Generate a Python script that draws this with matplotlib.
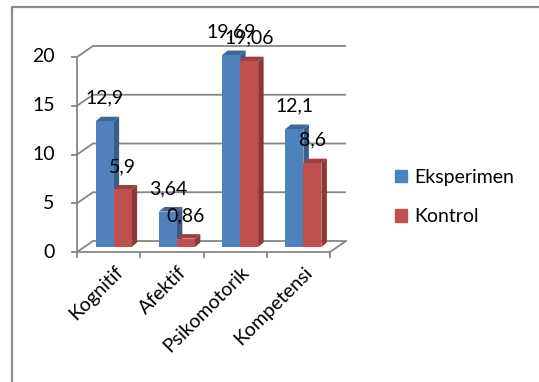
import matplotlib
matplotlib.use("Agg")
import matplotlib.pyplot as plt
from matplotlib.patches import Polygon, Patch
from matplotlib.lines import Line2D

categories = ["Kognitif", "Afektif", "Psikomotorik", "Kompetensi"]
eksperimen = [12.9, 3.64, 19.69, 12.1]
kontrol = [5.9, 0.86, 19.06, 8.6]
series_names = ["Eksperimen", "Kontrol"]
y_ticks = [0, 5, 10, 15, 20]

FONT = "Lato"
FS = 14
GRID = "#868686"
BLUE, BLUE_SIDE, BLUE_TOP = "#4F81BD", "#385D8A", "#3F6797"
RED, RED_SIDE, RED_TOP = "#C0504D", "#8C3836", "#9E3F3C"

W, H = 539, 382
fig = plt.figure(figsize=(W / 100, H / 100), dpi=100)

# front plane of the plot: x 77..330 px, y 252..57 px (from top)
ax = fig.add_axes([77 / W, (H - 252) / H, 253 / W, 195 / H])
ax.set_xlim(0, len(categories))
ax.set_ylim(0, 20)
ax.axis("off")

px_x = len(categories) / 253.0
px_y = 20 / 195.0

def fmt(v):
    return ("%g" % v).replace(".", ",")

# back wall / floor
wx, wy = 16 * px_x, 11 * px_y
n = len(categories)
for v in y_ticks:
    ax.plot([0, wx, n + wx], [v, v + wy, v + wy], color=GRID, lw=1.3,
            clip_on=False, zorder=1, solid_capstyle="butt")
    ax.plot([-5 * px_x, 0], [v, v], color=GRID, lw=1.3, clip_on=False, zorder=1)
    ax.annotate(str(v), (0, v), xytext=(-16, 0), textcoords="offset points",
                ha="right", va="center", fontsize=FS, family=FONT,
                annotation_clip=False)
ax.plot([0, n, n + wx], [0, 0, wy], color=GRID, lw=1.3, clip_on=False, zorder=1)
ax.plot([0, 0], [0, 20], color=GRID, lw=1.3, clip_on=False, zorder=1)
for i in range(n + 1):
    ax.plot([i, i], [0, -5 * px_y], color=GRID, lw=1.3, clip_on=False, zorder=1)

# bars (mid depth)
bw = 18 * px_x
bx, by = 5 * px_x, 5 * px_y
dx, dy = 5.5 * px_x, 4.5 * px_y
xs = [i + 0.5 + bx for i in range(n)]

def draw_series(vals, offset, front, side, top, z0):
    bars = ax.bar([x + offset for x in xs], vals, width=bw, bottom=by,
                  color=front, linewidth=0, clip_on=False)
    for k, (b, v) in enumerate(zip(bars, vals)):
        z = z0 + 4 * k
        x0, x1 = b.get_x(), b.get_x() + b.get_width()
        y0, y1 = b.get_y(), b.get_y() + b.get_height()
        ax.add_patch(Polygon([(x1, y0), (x1 + dx, y0 + dy), (x1 + dx, y1 + dy), (x1, y1)],
                             closed=True, color=side, lw=0, zorder=z, clip_on=False))
        ax.add_patch(Polygon([(x0, y1), (x0 + dx, y1 + dy), (x1 + dx, y1 + dy), (x1, y1)],
                             closed=True, color=top, lw=0, zorder=z, clip_on=False))
        b.set_zorder(z + 1)
        ax.annotate(fmt(v), ((x0 + x1) / 2, y1), xytext=(0, 16.5),
                    textcoords="offset points", ha="center", va="center",
                    fontsize=FS, family=FONT, zorder=50, annotation_clip=False)

draw_series(eksperimen, -bw / 2, BLUE, BLUE_SIDE, BLUE_TOP, 2)
draw_series(kontrol, bw / 2, RED, RED_SIDE, RED_TOP, 4)

# category labels
for i, c in enumerate(categories):
    ax.annotate(c, (i + 0.5, 0), xytext=(4, -8), textcoords="offset points",
                ha="right", va="top", rotation=45, rotation_mode="anchor",
                fontsize=FS, family=FONT, annotation_clip=False)

# legend
handles = [Patch(color=BLUE), Patch(color=RED)]
fig.legend(handles, series_names, loc="center left",
           bbox_to_anchor=(395 / W, (H - 197) / H), bbox_transform=fig.transFigure,
           frameon=False, handlelength=0.6, handleheight=0.6, handletextpad=0.4,
           labelspacing=1.15, borderpad=0, borderaxespad=0,
           prop={"family": FONT, "size": FS})

# outer frame (left and top edges)
fig.add_artist(Line2D([12 / W, 12 / W, 1], [0, (H - 7) / H, (H - 7) / H],
                      transform=fig.transFigure, color="#8C8C8C", lw=1.6))

fig.savefig("out.png", dpi=100)
